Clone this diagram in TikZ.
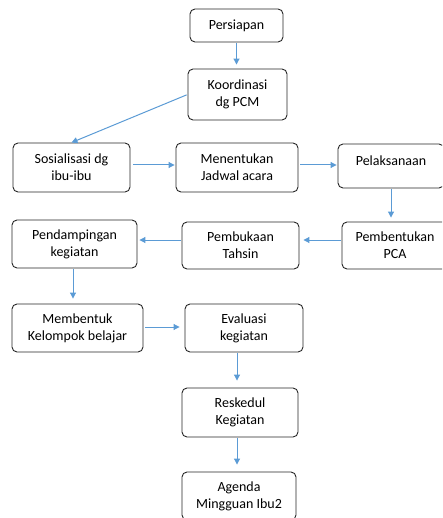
\documentclass[tikz,border=0pt]{standalone}
\usepackage{fontspec}
\setmainfont{Carlito}
\usepackage{xcolor}
\usepackage{tikz}
\usetikzlibrary{arrows.meta}

\definecolor{flowblue}{RGB}{91,155,213}

\tikzset{
	stepbox/.style={draw=black!85, line width=0.9pt, rounded corners=5pt, align=center,
		inner sep=0pt, font=\fontsize{14}{17}\selectfont},
	flow/.style={draw=flowblue, line width=1pt, -{Triangle[length=6pt,width=6pt]},
		shorten <=1pt, shorten >=4pt},
}

\begin{document}
\begin{tikzpicture}[x=1pt,y=-1pt]
	\useasboundingbox (0,0) rectangle (442,518);
	\clip (0,0) rectangle (442,518);
	% boxes
	\node[stepbox, minimum width=93pt, minimum height=33pt] (persiapan) at (236.5,25.5) {Persiapan};
	\node[stepbox, minimum width=99pt, minimum height=51pt] (koordinasi) at (237.5,94.5) {Koordinasi\\dg PCM};
	\node[stepbox, minimum width=117pt, minimum height=49pt] (sosialisasi) at (71.5,167.5) {Sosialisasi dg\\ibu-ibu};
	\node[stepbox, minimum width=122pt, minimum height=49pt] (jadwal) at (237,167.5) {Menentukan\\Jadwal acara};
	\node[stepbox, minimum width=106pt, minimum height=44pt, text depth=11pt] (pelaksanaan) at (391,166) {Pelaksanaan};
	\node[stepbox, minimum width=106pt, minimum height=47pt] (pca) at (395,245.5) {Pembentukan\\PCA};
	\node[stepbox, minimum width=117pt, minimum height=47pt] (tahsin) at (240.5,245.5) {Pembukaan\\Tahsin};
	\node[stepbox, minimum width=125pt, minimum height=48pt] (pendampingan) at (74.5,244) {Pendampingan\\kegiatan};
	\node[stepbox, minimum width=131pt, minimum height=48pt] (kelompok) at (77.5,328) {Membentuk\\Kelompok belajar};
	\node[stepbox, minimum width=118pt, minimum height=48pt] (evaluasi) at (244,328) {Evaluasi\\kegiatan};
	\node[stepbox, minimum width=116pt, minimum height=49pt] (reskedul) at (240,412.5) {Reskedul\\Kegiatan};
	\node[stepbox, minimum width=114pt, minimum height=48pt] (agenda) at (239,496) {Agenda\\Mingguan Ibu2};
	% arrows
	\draw[flow] (persiapan.south) -- (persiapan.south |- koordinasi.north);
	\draw[flow, shorten >=0pt] (koordinasi.west) -- (sosialisasi.north);
	\draw[flow, shorten <=3pt, shorten >=1pt] ([yshift=2.5pt]sosialisasi.east) -- ([yshift=2.5pt]sosialisasi.east -| jadwal.west);
	\draw[flow, shorten <=2pt, shorten >=1pt] ([yshift=2.5pt]jadwal.east) -- ([yshift=2.5pt]jadwal.east -| pelaksanaan.west);
	\draw[flow] (pelaksanaan.south) -- (pelaksanaan.south |- pca.north);
	\draw[flow] ([yshift=5.5pt]pca.west) -- ([yshift=5.5pt]pca.west -| tahsin.east);
	\draw[flow, shorten >=2pt] ([yshift=5.5pt]tahsin.west) -- ([yshift=5.5pt]tahsin.west -| pendampingan.east);
	\draw[flow, shorten >=5pt] ([xshift=-1.5pt]pendampingan.south) -- ([xshift=-1.5pt]pendampingan.south |- kelompok.north);
	\draw[flow, shorten <=2pt, shorten >=5pt] ([yshift=1pt]kelompok.east) -- ([yshift=1pt]kelompok.east -| evaluasi.west);
	\draw[flow, shorten >=7pt] ([xshift=-7pt]evaluasi.south) -- ([xshift=-7pt]evaluasi.south |- reskedul.north);
	\draw[flow, shorten >=7pt] ([xshift=-3pt]reskedul.south) -- ([xshift=-3pt]reskedul.south |- agenda.north);
\end{tikzpicture}
\end{document}
